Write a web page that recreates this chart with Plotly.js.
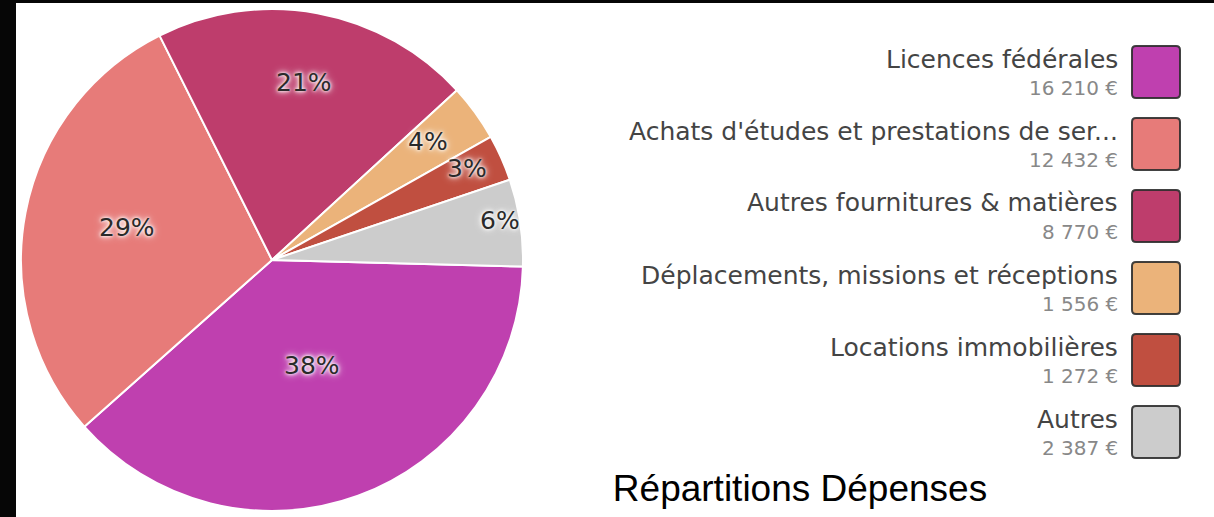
<!DOCTYPE html>
<html>
<head>
<meta charset="utf-8">
<script src="https://cdn.plot.ly/plotly-3.0.1.min.js"></script>
<style>
  html, body { margin:0; padding:0; width:1214px; height:517px; overflow:hidden; background:#060606; }
  #chart { position:absolute; left:16px; top:3px; width:1198px; height:514px; background:#fff; }
</style>
</head>
<body>
<div id="chart"></div>
<script>
// ---- data ----
const labels = [
  "Licences fédérales",
  "Achats d'études et prestations de services",
  "Autres fournitures & matières",
  "Déplacements, missions et réceptions",
  "Locations immobilières",
  "Autres"
];
const values = [16210, 12432, 8770, 1556, 1272, 2387];
const colors = ["#BF40AF", "#E77B79", "#BE3D6C", "#EBB37A", "#C04F40", "#CCCCCC"];
const chartTitle = "Répartitions Dépenses";

// ---- layout (pixels inside the plot div) ----
const W = 1198, H = 514;
const px = x => x / W;
const py = y => 1 - y / H;
const cx = 256, cy = 257, R = 251, ROT = 91.5;
// radial position (fraction of radius) of each percentage label
const labelRadius = [0.47, 0.59, 0.70, 0.77, 0.85, 0.92];

function fmtEuro(v) {
  return String(v).replace(/\B(?=(\d{3})+(?!\d))/g, "\u00a0") + "\u00a0€";
}
function trunc(s) { return s.length > 37 ? s.slice(0, 37) + "..." : s; }

const trace = {
  type: "pie",
  labels: labels,
  values: values,
  sort: false,
  direction: "clockwise",
  rotation: ROT,
  marker: { colors: colors, line: { color: "#ffffff", width: 2 } },
  textinfo: "none",
  hoverinfo: "label+value+percent",
  domain: { x: [px(cx - R), px(cx + R)], y: [py(cy + R), py(cy - R)] },
  showlegend: false
};

const annotations = [];
const shapes = [];

// percentage labels placed along each slice's mid angle
const total = values.reduce((a, b) => a + b, 0);
let acc = 0;
values.forEach((v, i) => {
  const mid = (ROT + (acc + v / 2) / total * 360) * Math.PI / 180;
  acc += v;
  const r = labelRadius[i] * R;
  annotations.push({
    xref: "paper", yref: "paper",
    x: px(cx + r * Math.sin(mid)), y: py(cy - r * Math.cos(mid)),
    xanchor: "center", yanchor: "middle", showarrow: false, yshift: 5,
    text: Math.round(v / total * 100) + "%",
    font: { family: "DejaVu Sans", size: 25, color: "#2a2a2a",
            shadow: "0 0 3px #fff, 0 0 5px #fff, 0 0 8px #fff" }
  });
});

// custom legend: text right-aligned, colour box on the right
const textRight = 1104, boxL = 1116, boxR = 1164, pitch = 72;
function roundRect(x0, y0, x1, y1, r) {
  const P = (x, y) => px(x) + "," + py(y);
  return "M" + P(x0 + r, y0) + " L" + P(x1 - r, y0) + " Q" + P(x1, y0) + " " + P(x1, y0 + r) +
         " L" + P(x1, y1 - r) + " Q" + P(x1, y1) + " " + P(x1 - r, y1) +
         " L" + P(x0 + r, y1) + " Q" + P(x0, y1) + " " + P(x0, y1 - r) +
         " L" + P(x0, y0 + r) + " Q" + P(x0, y0) + " " + P(x0 + r, y0) + " Z";
}
labels.forEach((lab, i) => {
  const top = 43 + i * pitch;
  annotations.push({
    xref: "paper", yref: "paper", x: px(textRight), y: py(top + 13),
    xanchor: "right", yanchor: "middle", showarrow: false,
    text: trunc(lab), font: { family: "DejaVu Sans", size: 25, color: "#444" }
  });
  annotations.push({
    xref: "paper", yref: "paper", x: px(textRight), y: py(top + 42),
    xanchor: "right", yanchor: "middle", showarrow: false,
    text: fmtEuro(values[i]), font: { family: "DejaVu Sans", size: 20, color: "#888" }
  });
  shapes.push({
    type: "path", xref: "paper", yref: "paper",
    path: roundRect(boxL, top, boxR, top + 52, 4),
    fillcolor: colors[i], line: { color: "rgba(45,45,45,0.9)", width: 2 }
  });
});

const layout = {
  width: W, height: H,
  margin: { l: 0, r: 0, t: 0, b: 0 },
  paper_bgcolor: "#ffffff",
  title: { text: chartTitle, x: px(784), y: 1 - 485 / H, xanchor: "center", yanchor: "middle",
           font: { family: "Liberation Sans, Arial", size: 37, color: "#000" } },
  annotations: annotations,
  shapes: shapes
};

Plotly.newPlot("chart", [trace], layout, { displayModeBar: false, staticPlot: true });
</script>
</body>
</html>
